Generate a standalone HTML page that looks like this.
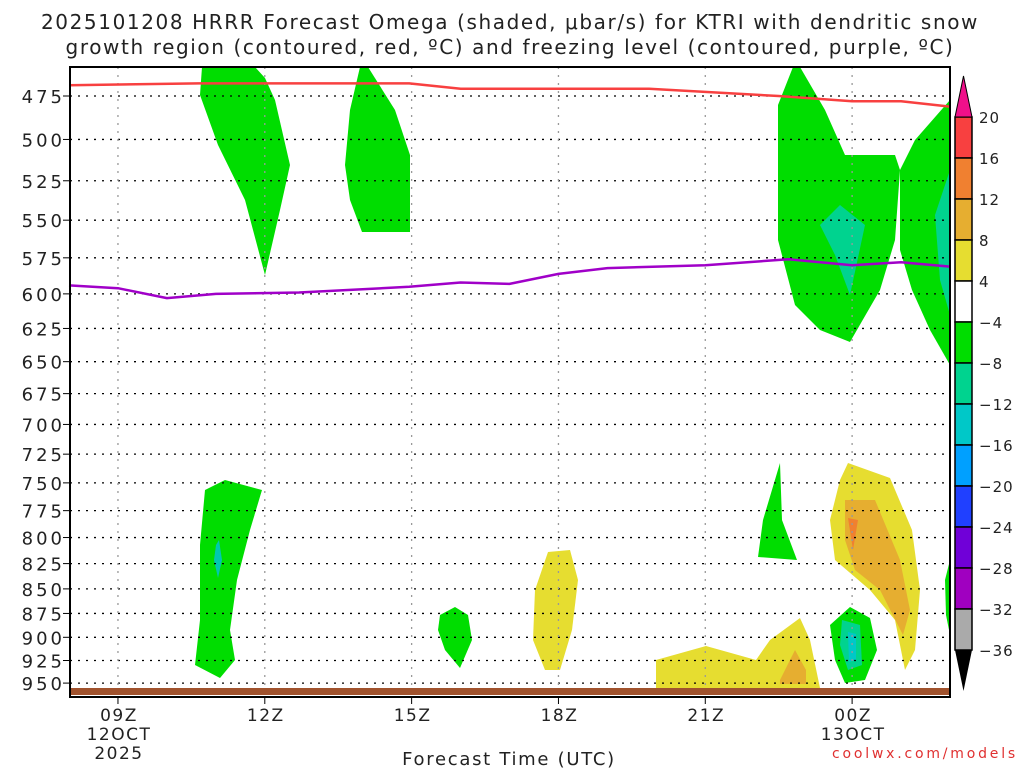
<!DOCTYPE html>
<html><head><meta charset="utf-8"><style>
body{margin:0;background:#fff;width:1024px;height:768px;overflow:hidden;font-family:"DejaVu Sans",sans-serif}
</style></head><body>
<svg id="c" width="1024" height="768" xmlns="http://www.w3.org/2000/svg" font-family="DejaVu Sans, sans-serif">
<text x="510" y="29" font-size="20" letter-spacing="1.6" text-anchor="middle" fill="#222">2025101208 HRRR Forecast Omega (shaded, μbar/s) for KTRI with dendritic snow</text>
<text x="510" y="54" font-size="20" letter-spacing="1.6" text-anchor="middle" fill="#222">growth region (contoured, red, ºC) and freezing level (contoured, purple, ºC)</text>
<g id="shapes">
<polygon fill="#00dd00" points="202,67 255,67 265,78 275,100 290,165 280,210 265,275 245,200 218,145 200,95"/>
<polygon fill="#00dd00" points="360,67 368,67 395,110 410,155 410,232 362,232 350,200 345,165 350,110"/>
<polygon fill="#00dd00" points="778,105 793,67 800,67 825,110 845,155 895,155 900,170 895,240 880,290 850,342 820,330 795,305 778,240"/>
<polygon fill="#00d38f" points="820,225 840,205 865,225 850,295 835,255"/>
<polygon fill="#00dd00" points="900,170 915,140 950,100 950,365 930,330 912,290 900,250"/>
<polygon fill="#00d38f" points="935,215 950,170 950,315 940,280"/>
<polygon fill="#00dd00" points="205,490 225,480 262,490 250,530 237,580 230,630 235,660 220,678 195,665 200,620 200,545"/>
<polygon fill="#00c8b0" points="216,545 219,540 222,560 218,578 214,560"/>
<polygon fill="#00dd00" points="440,615 455,607 468,615 472,640 460,668 445,650 438,630"/>
<polygon fill="#00dd00" points="763,520 780,463 782,520 797,560 758,557"/>
<polygon fill="#e6dd30" points="548,552 570,550 578,580 572,630 560,670 545,670 533,640 535,590"/>
<polygon fill="#e6dd30" points="656,660 706,646 756,660 770,640 800,618 810,640 820,688 656,688"/>
<polygon fill="#e6ae30" points="780,680 795,650 806,670 806,684 780,684"/>
<polygon fill="#e6dd30" points="848,463 890,478 912,530 920,590 915,650 905,670 895,620 870,590 835,560 830,520 840,480"/>
<polygon fill="#e6ae30" points="845,500 875,500 900,560 910,610 903,635 880,590 855,570 845,540"/>
<polygon fill="#f08030" points="848,518 858,520 853,550"/>
<polygon fill="#00dd00" points="830,625 850,607 870,618 877,650 865,680 845,683 835,660"/>
<polygon fill="#00d38f" points="842,620 860,625 862,665 848,670 840,645"/>
<polygon fill="#00c8c8" points="848,632 856,634 856,660 849,662"/>
<polygon fill="#00dd00" points="950,560 945,580 946,615 950,635"/>
</g>
<g id="grid"></g>
<g id="lines"></g>
<rect x="70" y="688" width="880" height="7" fill="#a0522d"/>
<rect x="70" y="67" width="880" height="630" fill="none" stroke="#000" stroke-width="2"/>
<g id="axes"></g>
<g id="cbar"></g>
<text x="509" y="765" font-size="18" letter-spacing="1.7" text-anchor="middle" fill="#222">Forecast Time (UTC)</text>
<text x="1018" y="758" font-size="14" letter-spacing="2.8" text-anchor="end" fill="#e03030">coolwx.com/models</text>
</svg>
<script>
const pLevels=[475,500,525,550,575,600,625,650,675,700,725,750,775,800,825,850,875,900,925,950];
const xTicks=[9,12,15,18,21,24];
const xTickLabels=[["09Z","12OCT","2025"],["12Z"],["15Z"],["18Z"],["21Z"],["00Z","13OCT"]];
const redHours=[8.0,10.65,12.9,14.95,16,19.85,22.5,24,25,26];
const redP=[469,468,468,468,471,471,475,478,478,481];
const purpleHours=[8.0,9,10,11,12.7,14.95,16,17,18,19,21,22.7,24,25,26];
const purpleP=[594,596,603,600,599,595,592,593,586,582,580,576,580,578,581];
const cbLevels=[20,16,12,8,4,-4,-8,-12,-16,-20,-24,-28,-32,-36];
const cbColors=["#f84040","#f08030","#e6ae30","#e6dd30","#ffffff","#00dd00","#00d38f","#00c8c8","#00a0ff","#2040ff","#7000d8","#a000c0","#aaaaaa"];
const NS="http://www.w3.org/2000/svg";
const X0=70,X1=950,H0=8.02,H1=26;
const xs=h=>X0+(h-H0)/(H1-H0)*(X1-X0);
const ys=p=>96+(Math.log(p)-Math.log(475))*847;
function mk(tag,at,parent){const e=document.createElementNS(NS,tag);for(const k in at)e.setAttribute(k,at[k]);document.getElementById(parent).appendChild(e);return e;}
pLevels.forEach(p=>{
 const l=mk('line',{x1:X0,x2:X1,y1:ys(p),y2:ys(p),stroke:'#000','stroke-dasharray':'2,6','stroke-width':1.3},'grid');
 
 
 const t=mk('line',{x1:X0-7,x2:X0,y1:ys(p),y2:ys(p),stroke:'#000'},'axes');
 
 
 const tx=mk('text',{x:X0-5,y:ys(p)+7,'font-size':18,'letter-spacing':3,'text-anchor':'end',fill:'#222'},'axes');
 tx.textContent=p;
 
 
});
xTicks.forEach((h,i)=>{
 const l=mk('line',{x1:xs(h),x2:xs(h),y1:67,y2:697,stroke:'#999','stroke-dasharray':'2,6','stroke-width':1.3},'grid');
 
 
 const t=mk('line',{x1:xs(h),x2:xs(h),y1:697,y2:704,stroke:'#000'},'axes');
 
 
 xTickLabels[i].forEach((s,j)=>{
  const tx=mk('text',{x:xs(h)+1,y:721+j*19,'font-size':17,'letter-spacing':1.5,'text-anchor':'middle',fill:'#222'},'axes');
  tx.textContent=s;
  
  
 });
});
function line(hs,ps,col,name){
 const d=hs.map((h,i)=>(i?'L':'M')+xs(h).toFixed(1)+','+ys(ps[i]).toFixed(1)).join('');
 const e=mk('path',{d:d,fill:'none',stroke:col,'stroke-width':2.5,'stroke-linejoin':'round'},'lines');
 
 
}
line(redHours,redP,'#f84040','dendritic-growth-contour');
line(purpleHours,purpleP,'#a000c8','freezing-level-contour');
const cy=v=>117+cbLevels.indexOf(v)*41;
const bx=955,bw=17;
cbColors.forEach((c,i)=>{
 const r=mk('rect',{x:bx,y:117+i*41,width:bw,height:41,fill:c,stroke:'#000','stroke-width':1.5},'cbar');
 
 
});
const tu=mk('polygon',{points:`${bx},117 ${bx+bw},117 ${bx+bw/2},76`,fill:'#f0108a',stroke:'#000'},'cbar');


const td=mk('polygon',{points:`${bx},650 ${bx+bw},650 ${bx+bw/2},691`,fill:'#000'},'cbar');


cbLevels.forEach(v=>{
 const t=mk('text',{x:979,y:cy(v)+6,'font-size':15,'letter-spacing':1,fill:'#222'},'cbar');
 t.textContent=v<0?'\u2212'+(-v):v;
 
 
});
</script>
</body></html>
